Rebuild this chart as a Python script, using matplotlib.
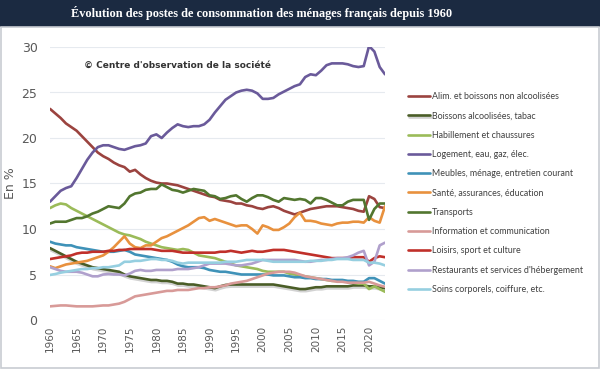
import numpy as np
import matplotlib.pyplot as plt
import matplotlib.patheffects as pe
from matplotlib.patches import Rectangle

years = np.arange(1960, 2024)

alim = [23.2, 22.7, 22.2, 21.6, 21.2, 20.8, 20.2, 19.6, 19.0, 18.4,
        18.0, 17.7, 17.3, 17.0, 16.8, 16.3, 16.5, 16.0, 15.6, 15.3,
        15.1, 15.0, 15.0, 14.9, 14.8, 14.6, 14.4, 14.2, 14.0, 13.8,
        13.6, 13.5, 13.2, 13.1, 13.0, 12.8, 12.8, 12.6, 12.5, 12.3,
        12.2, 12.4, 12.5, 12.3, 12.0, 11.8, 11.6, 11.8, 12.0, 12.2,
        12.3, 12.4, 12.5, 12.5, 12.5, 12.4, 12.3, 12.2, 12.0, 11.9,
        13.6, 13.3, 12.4, 12.3]
boissons = [7.9, 7.6, 7.3, 7.0, 6.7, 6.4, 6.2, 6.0, 5.8, 5.7,
            5.6, 5.5, 5.4, 5.3, 5.0, 4.8, 4.7, 4.6, 4.5, 4.4,
            4.4, 4.3, 4.3, 4.2, 4.0, 4.0, 3.9, 3.9, 3.8, 3.7,
            3.6, 3.5, 3.7, 3.85, 3.9, 3.9, 3.9, 3.9, 3.9, 3.9,
            3.9, 3.9, 3.9, 3.8, 3.7, 3.6, 3.5, 3.4, 3.4, 3.5,
            3.6, 3.6, 3.7, 3.7, 3.7, 3.7, 3.7, 3.8, 3.8, 3.8,
            3.7, 3.7, 3.6, 3.5]
habillement = [12.3, 12.6, 12.8, 12.7, 12.3, 12.0, 11.7, 11.4, 11.1, 10.8,
               10.5, 10.2, 9.9, 9.6, 9.4, 9.3, 9.1, 8.9, 8.6, 8.4,
               8.2, 8.0, 7.9, 7.8, 7.7, 7.8, 7.7, 7.4, 7.1, 7.0,
               6.9, 6.8, 6.6, 6.4, 6.2, 6.0, 5.9, 5.8, 5.7, 5.6,
               5.4, 5.3, 5.3, 5.3, 5.3, 5.1, 5.0, 4.9, 4.8, 4.7,
               4.6, 4.5, 4.4, 4.3, 4.3, 4.3, 4.2, 4.1, 4.0, 4.0,
               3.4, 3.7, 3.4, 3.1]
logement = [13.0, 13.6, 14.2, 14.5, 14.7, 15.6, 16.6, 17.6, 18.4, 19.0,
            19.2, 19.2, 19.0, 18.8, 18.7, 18.9, 19.1, 19.2, 19.4, 20.2,
            20.4, 20.0, 20.6, 21.1, 21.5, 21.3, 21.2, 21.3, 21.3, 21.5,
            22.0, 22.8, 23.5, 24.2, 24.6, 25.0, 25.2, 25.3, 25.2, 24.9,
            24.3, 24.3, 24.4, 24.8, 25.1, 25.4, 25.7, 25.9, 26.7, 27.0,
            26.9, 27.4, 28.0, 28.2, 28.2, 28.2, 28.1, 27.9, 27.8, 27.9,
            30.1, 29.5, 27.8, 27.0]
meubles = [8.6, 8.4, 8.3, 8.2, 8.2, 8.0, 7.9, 7.8, 7.7, 7.6,
           7.5, 7.5, 7.5, 7.6, 7.7, 7.5, 7.2, 7.1, 7.0, 6.9,
           6.8, 6.7, 6.6, 6.4, 6.1, 5.9, 5.8, 5.8, 5.8, 5.7,
           5.5, 5.4, 5.3, 5.3, 5.2, 5.1, 5.0, 5.0, 5.0, 5.0,
           5.0, 5.0, 4.9, 4.9, 4.9, 4.8, 4.7, 4.7, 4.6, 4.6,
           4.5, 4.5, 4.5, 4.4, 4.4, 4.4, 4.3, 4.3, 4.2, 4.2,
           4.6, 4.6, 4.3, 4.0]
sante = [5.9, 5.7, 5.9, 6.1, 6.2, 6.3, 6.4, 6.5, 6.7, 6.9,
         7.1, 7.5, 8.0, 8.6, 9.2, 8.4, 8.0, 7.9, 8.2, 8.2,
         8.6, 9.0, 9.2, 9.5, 9.8, 10.1, 10.4, 10.8, 11.2, 11.3,
         10.9, 11.1, 10.9, 10.7, 10.5, 10.3, 10.4, 10.4, 10.0, 9.5,
         10.4, 10.2, 9.9, 9.9, 10.2, 10.6, 11.3, 11.8, 10.9, 10.9,
         10.8, 10.6, 10.5, 10.4, 10.6, 10.7, 10.7, 10.8, 10.8, 10.7,
         11.3, 10.9, 10.7, 12.5]
transports = [10.6, 10.8, 10.8, 10.8, 11.0, 11.2, 11.2, 11.4, 11.7, 11.9,
              12.2, 12.5, 12.4, 12.3, 12.8, 13.6, 13.9, 14.0, 14.3, 14.4,
              14.4, 14.9, 14.6, 14.3, 14.2, 14.0, 14.2, 14.4, 14.3, 14.2,
              13.7, 13.6, 13.3, 13.4, 13.6, 13.7, 13.3, 13.0, 13.4, 13.7,
              13.7, 13.5, 13.2, 13.0, 13.4, 13.3, 13.2, 13.3, 13.2, 12.8,
              13.4, 13.4, 13.2, 12.9, 12.6, 12.6, 13.0, 13.2, 13.2, 13.2,
              11.0, 12.2, 12.8, 12.8]
information = [1.5, 1.55, 1.6, 1.6, 1.55, 1.5, 1.5, 1.5, 1.5, 1.55,
               1.6, 1.6, 1.7, 1.8, 2.0, 2.3, 2.6, 2.7, 2.8, 2.9,
               3.0, 3.1, 3.2, 3.2, 3.3, 3.3, 3.3, 3.4, 3.5, 3.5,
               3.6, 3.6, 3.7, 3.8, 4.0, 4.1, 4.2, 4.3, 4.5, 4.7,
               4.9, 5.1, 5.2, 5.3, 5.3, 5.3, 5.2, 5.0, 4.8, 4.7,
               4.6, 4.5, 4.4, 4.3, 4.2, 4.2, 4.1, 4.1, 4.1, 4.1,
               4.2, 4.0, 3.8, 3.65]
loisirs = [6.7, 6.8, 6.9, 7.0, 7.1, 7.3, 7.4, 7.4, 7.5, 7.5,
           7.5, 7.6, 7.6, 7.7, 7.7, 7.8, 7.8, 7.8, 7.8, 7.8,
           7.7, 7.6, 7.6, 7.6, 7.5, 7.4, 7.4, 7.4, 7.4, 7.4,
           7.4, 7.4, 7.5, 7.5, 7.6, 7.5, 7.4, 7.5, 7.6, 7.5,
           7.5, 7.6, 7.7, 7.7, 7.7, 7.6, 7.5, 7.4, 7.3, 7.2,
           7.1, 7.0, 6.9, 6.8, 6.8, 6.8, 6.8, 6.9, 6.9, 6.9,
           6.4, 6.8, 7.0, 6.9]
restaurants = [5.8, 5.6, 5.4, 5.3, 5.3, 5.3, 5.2, 5.0, 4.8, 4.8,
               5.0, 5.05, 5.0, 5.0, 4.9, 5.1, 5.4, 5.5, 5.4, 5.4,
               5.5, 5.5, 5.5, 5.5, 5.6, 5.6, 5.6, 5.7, 5.8, 6.0,
               6.2, 6.2, 6.2, 6.2, 6.1, 6.0, 6.0, 6.1, 6.2, 6.4,
               6.6, 6.6, 6.6, 6.6, 6.6, 6.6, 6.6, 6.5, 6.4, 6.4,
               6.5, 6.6, 6.6, 6.7, 6.8, 6.8, 6.9, 7.1, 7.4, 7.6,
               6.0, 6.4, 8.2, 8.5]
soins = [4.95, 5.05, 5.2, 5.3, 5.4, 5.5, 5.6, 5.6, 5.7, 5.7,
         5.8, 5.8, 5.9, 6.0, 6.4, 6.4, 6.5, 6.5, 6.6, 6.7,
         6.7, 6.6, 6.6, 6.5, 6.3, 6.2, 6.3, 6.3, 6.3, 6.3,
         6.3, 6.3, 6.3, 6.4, 6.4, 6.4, 6.5, 6.6, 6.6, 6.6,
         6.6, 6.5, 6.4, 6.4, 6.4, 6.4, 6.4, 6.4, 6.4, 6.5,
         6.5, 6.5, 6.6, 6.6, 6.7, 6.7, 6.7, 6.6, 6.6, 6.6,
         6.3, 6.3, 6.2, 6.0]

labels = ["Alim. et boissons non alcoolisées", "Boissons alcoolisées, tabac",
          "Habillement et chaussures", "Logement, eau, gaz, élec.",
          "Meubles, ménage, entretien courant", "Santé, assurances, éducation",
          "Transports", "Information et communication",
          "Loisirs, sport et culture", "Restaurants et services d'hébergement",
          "Soins corporels, coiffure, etc."]
series = [alim, boissons, habillement, logement, meubles, sante,
          transports, information, loisirs, restaurants, soins]
colors = ["#9b433f", "#4a5d27", "#9bbb59", "#6a5a9a", "#3f92b8", "#e8913e",
          "#52762f", "#d89a98", "#c0302a", "#b0a0cc", "#96cfe0"]

fig = plt.figure(figsize=(6, 3.69), dpi=100)

# title band + frame
fig.patches.append(Rectangle((0, 1 - 27/369), 1, 27/369, transform=fig.transFigure,
                             facecolor="#1b2a41", edgecolor="none", zorder=0))
fig.patches.append(Rectangle((0.002, 0.004), 0.996, 1 - 27/369 - 0.004,
                             transform=fig.transFigure, facecolor="none",
                             edgecolor="#c8ccd2", lw=1.2, zorder=0))
fig.text(262/600, 1 - 13.5/369, "Évolution des postes de consommation des ménages français depuis 1960",
         ha="center", va="center", color="white", fontsize=8.8,
         family="Liberation Serif", weight="bold")

ax = fig.add_axes([50/600, 49/369, 335/600, 273/369])
for vals, lab, col in zip(series, labels, colors):
    kw = {}
    if lab.startswith("Boissons"):
        kw["path_effects"] = [pe.SimpleLineShadow(offset=(0.5, -1.5), shadow_color="gray", alpha=0.35),
                              pe.Normal()]
    ax.plot(years, vals, color=col, lw=1.9, label=lab, solid_capstyle="round", **kw)

ax.set_xlim(1960, 2023)
ax.set_ylim(0, 30)
ax.set_yticks(range(0, 31, 5))
ax.set_xticks(range(1960, 2021, 5))
ax.tick_params(axis="x", labelrotation=90, labelsize=7.5, colors="#595959", length=0, pad=4)
ax.tick_params(axis="y", labelsize=9, colors="#595959", length=0, pad=9)
ax.grid(axis="y", color="#e6eaef", lw=0.8)
ax.set_axisbelow(True)
for s in ax.spines.values():
    s.set_visible(False)
ax.set_ylabel("En %", fontsize=9, color="#595959", labelpad=3)

ax.text(1984, 28.0, "© Centre d'observation de la société", ha="center", va="center",
        fontsize=6.5, weight="bold", color="#333333")

fig.legend(loc="upper left", bbox_to_anchor=(408/600, 1 - 92/369), frameon=False,
           prop={"family": "Lato", "size": 6.4},
           labelcolor="#404040", handlelength=2.5, handletextpad=0.15,
           labelspacing=1.16, borderpad=0, borderaxespad=0)

fig.savefig("out.png", dpi=100)
